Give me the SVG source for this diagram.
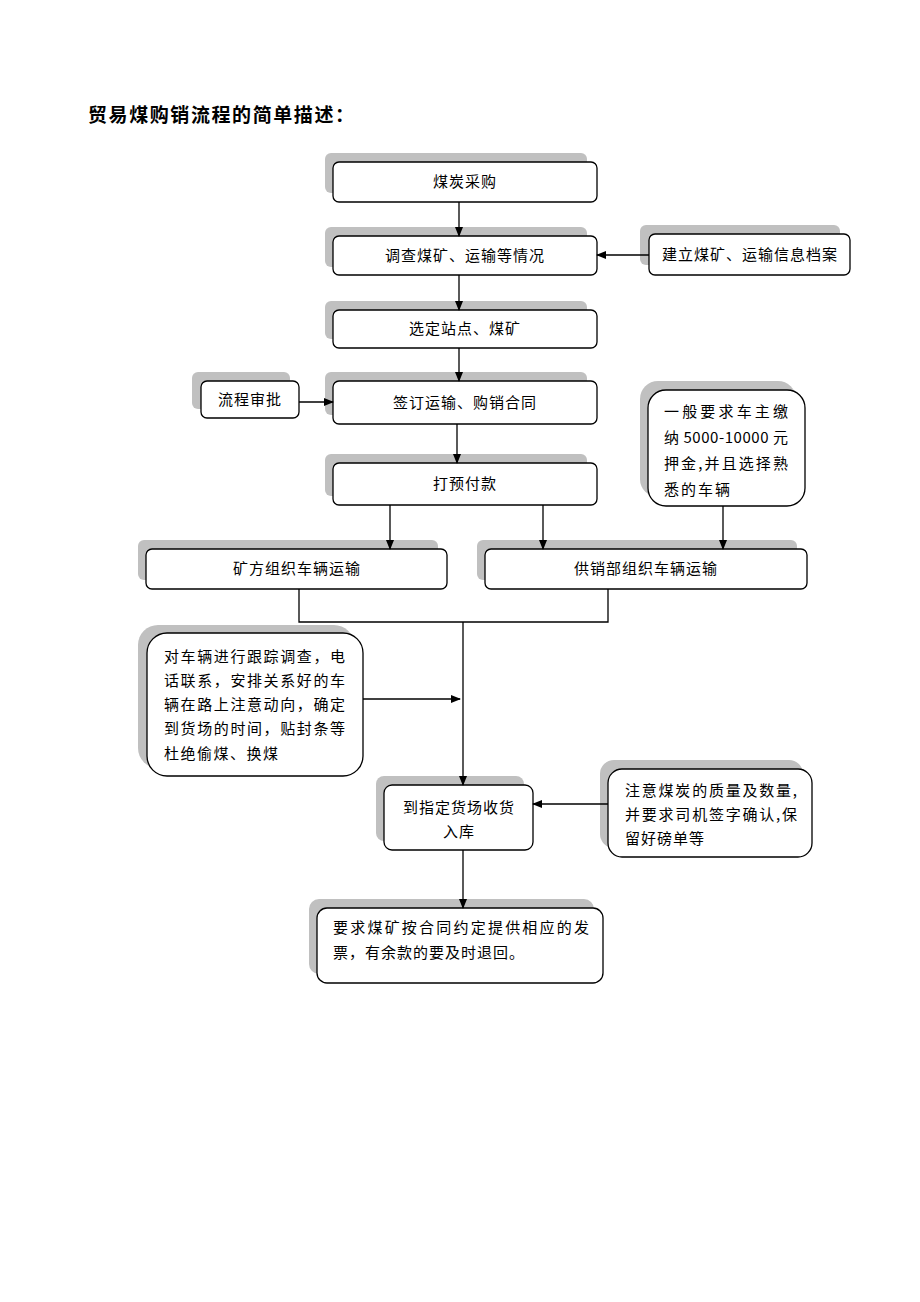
<svg xmlns="http://www.w3.org/2000/svg" width="920" height="1302" viewBox="0 0 920 1302">
<style>
.sh{fill:#c0c0c0;stroke:none}
.bx{fill:#fff;stroke:#000;stroke-width:1.3}
.t{font-family:"Noto Sans CJK SC","Liberation Serif",sans-serif;font-size:15px;fill:#000}
.c{text-anchor:middle;letter-spacing:1px}
.ln{fill:none;stroke:#000;stroke-width:1.3}
</style>
<defs>
<marker id="ah" markerWidth="10" markerHeight="10" refX="9" refY="5" orient="auto" markerUnits="userSpaceOnUse">
<path d="M0,1 L10,5 L0,9 Z" fill="#000"/>
</marker>
</defs>
<rect width="920" height="1302" fill="#fff"/>
<text x="88" y="122" font-family="Noto Sans CJK SC,sans-serif" font-size="19" font-weight="bold" textLength="266" lengthAdjust="spacing">贸易煤购销流程的简单描述：</text>

<g id="n1"><rect class="sh" x="325" y="153" width="262" height="40" rx="6"/><rect class="bx" x="333" y="162" width="264" height="40" rx="6"/><text class="t c" x="465" y="187">煤炭采购</text></g>
<g id="n2"><rect class="sh" x="325" y="227" width="262" height="40" rx="6"/><rect class="bx" x="333" y="236" width="264" height="39" rx="6"/><text class="t c" x="465" y="261">调查煤矿、运输等情况</text></g>
<g id="n3"><rect class="sh" x="640" y="225" width="200" height="40" rx="6"/><rect class="bx" x="649" y="234" width="201" height="41" rx="6"/><text class="t c" x="750" y="260">建立煤矿、运输信息档案</text></g>
<g id="n4"><rect class="sh" x="325" y="301" width="262" height="38" rx="6"/><rect class="bx" x="333" y="310" width="264" height="38" rx="6"/><text class="t c" x="465" y="334">选定站点、煤矿</text></g>
<g id="n5"><rect class="sh" x="192" y="372" width="98" height="37" rx="6"/><rect class="bx" x="201" y="381" width="98" height="37" rx="6"/><text class="t c" x="250" y="405">流程审批</text></g>
<g id="n6"><rect class="sh" x="325" y="372" width="262" height="43" rx="6"/><rect class="bx" x="333" y="381" width="264" height="43" rx="6"/><text class="t c" x="465" y="408">签订运输、购销合同</text></g>
<g id="n7"><rect class="sh" x="325" y="454" width="262" height="42" rx="6"/><rect class="bx" x="333" y="463" width="264" height="42" rx="6"/><text class="t c" x="465" y="489">打预付款</text></g>
<g id="n8"><rect class="sh" x="640" y="381" width="156" height="116" rx="18"/><rect class="bx" x="648" y="390" width="157" height="116" rx="18"/>
<text class="t" x="664" y="417" textLength="124" lengthAdjust="spacing">一般要求车主缴</text>
<text class="t" x="664" y="443" textLength="124" lengthAdjust="spacing">纳 5000-10000 元</text>
<text class="t" x="664" y="469" textLength="124" lengthAdjust="spacing">押金,并且选择熟</text>
<text class="t" x="664" y="495" letter-spacing="2">悉的车辆</text></g>
<g id="n9"><rect class="sh" x="138" y="540" width="300" height="40" rx="6"/><rect class="bx" x="146" y="549" width="301" height="40" rx="6"/><text class="t c" x="297" y="574">矿方组织车辆运输</text></g>
<g id="n10"><rect class="sh" x="477" y="540" width="320" height="40" rx="6"/><rect class="bx" x="485" y="549" width="322" height="40" rx="6"/><text class="t c" x="646" y="574">供销部组织车辆运输</text></g>
<g id="n11"><rect class="sh" x="138" y="625" width="216" height="143" rx="20"/><rect class="bx" x="147" y="633" width="216" height="143" rx="20"/>
<text class="t" x="164" y="662" textLength="181" lengthAdjust="spacing">对车辆进行跟踪调查，电</text>
<text class="t" x="164" y="686" textLength="181" lengthAdjust="spacing">话联系，安排关系好的车</text>
<text class="t" x="164" y="710" textLength="181" lengthAdjust="spacing">辆在路上注意动向，确定</text>
<text class="t" x="164" y="734" textLength="181" lengthAdjust="spacing">到货场的时间，贴封条等</text>
<text class="t" x="164" y="759" letter-spacing="1.5">杜绝偷煤、换煤</text></g>
<g id="n12"><rect class="sh" x="376" y="776" width="148" height="65" rx="8"/><rect class="bx" x="384" y="785" width="149" height="65" rx="8"/>
<text class="t c" x="459" y="813">到指定货场收货</text><text class="t c" x="459" y="837">入库</text></g>
<g id="n13"><rect class="sh" x="600" y="760" width="203" height="88" rx="14"/><rect class="bx" x="608" y="769" width="204" height="88" rx="14"/>
<text class="t" x="625" y="796" textLength="172" lengthAdjust="spacing">注意煤炭的质量及数量,</text>
<text class="t" x="625" y="820" textLength="172" lengthAdjust="spacing">并要求司机签字确认,保</text>
<text class="t" x="625" y="844" letter-spacing="1">留好磅单等</text></g>
<g id="n14"><rect class="sh" x="309" y="899" width="285" height="75" rx="10"/><rect class="bx" x="317" y="908" width="286" height="75" rx="10"/>
<text class="t" x="333" y="933" textLength="256" lengthAdjust="spacing">要求煤矿按合同约定提供相应的发</text>
<text class="t" x="333" y="958" letter-spacing="1">票，有余款的要及时退回。</text></g>

<g id="connectors">
<line class="ln" x1="459" y1="202" x2="459" y2="236" marker-end="url(#ah)"/>
<line class="ln" x1="649" y1="255" x2="597" y2="255" marker-end="url(#ah)"/>
<line class="ln" x1="459" y1="275" x2="459" y2="310" marker-end="url(#ah)"/>
<line class="ln" x1="459" y1="348" x2="459" y2="381" marker-end="url(#ah)"/>
<line class="ln" x1="299" y1="402" x2="333" y2="402" marker-end="url(#ah)"/>
<line class="ln" x1="457" y1="424" x2="457" y2="463" marker-end="url(#ah)"/>
<line class="ln" x1="390" y1="505" x2="390" y2="549" marker-end="url(#ah)"/>
<line class="ln" x1="543" y1="505" x2="543" y2="549" marker-end="url(#ah)"/>
<line class="ln" x1="723" y1="506" x2="723" y2="549" marker-end="url(#ah)"/>
<polyline class="ln" points="299,589 299,622 608,622 608,589"/>
<line class="ln" x1="463" y1="622" x2="463" y2="785" marker-end="url(#ah)"/>
<line class="ln" x1="363" y1="699" x2="460" y2="699" marker-end="url(#ah)"/>
<line class="ln" x1="608" y1="804" x2="533" y2="804" marker-end="url(#ah)"/>
<line class="ln" x1="463" y1="850" x2="463" y2="908" marker-end="url(#ah)"/>
</g>
</svg>
